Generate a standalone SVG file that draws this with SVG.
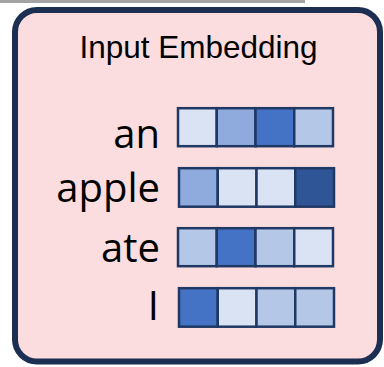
<svg xmlns="http://www.w3.org/2000/svg" width="384" height="367" viewBox="0 0 384 367">
<style>
.cell{stroke:#1f3864;stroke-width:2.5}
.c1{fill:#dae3f3}.c2{fill:#b4c7e7}.c3{fill:#8faadc}.c4{fill:#4472c4}.c5{fill:#2f5597}
.lbl{font-family:"Open Sans","Noto Sans",sans-serif;font-size:40px;fill:#000;text-anchor:end}
.title{font-family:"Liberation Sans",Arial,sans-serif;font-size:31.5px;fill:#000;text-anchor:middle}
</style>
<rect x="0" y="0" width="305" height="3" fill="#a3a3a3"/>
<g id="embedding-box">
<rect x="15" y="10" width="365" height="351.5" rx="22" fill="#fbdde0" stroke="#1c2f52" stroke-width="6"/>
<text class="title" x="198.5" y="58">Input Embedding</text>
</g>
<g id="row-an">
<text class="lbl" x="160" y="148">an</text>
<rect class="cell c1" x="178" y="108.2" width="38.75" height="38"/>
<rect class="cell c3" x="216.75" y="108.2" width="38.75" height="38"/>
<rect class="cell c4" x="255.5" y="108.2" width="38.75" height="38"/>
<rect class="cell c2" x="294.25" y="108.2" width="38.75" height="38"/>
</g>
<g id="row-apple">
<text class="lbl" x="160" y="202">apple</text>
<rect class="cell c3" x="179" y="168.2" width="38.75" height="38.5"/>
<rect class="cell c1" x="217.75" y="168.2" width="38.75" height="38.5"/>
<rect class="cell c1" x="256.5" y="168.2" width="38.75" height="38.5"/>
<rect class="cell c5" x="295.25" y="168.2" width="38.75" height="38.5"/>
</g>
<g id="row-ate">
<text class="lbl" x="160" y="262">ate</text>
<rect class="cell c2" x="178" y="228.2" width="38.75" height="38"/>
<rect class="cell c4" x="216.75" y="228.2" width="38.75" height="38"/>
<rect class="cell c2" x="255.5" y="228.2" width="38.75" height="38"/>
<rect class="cell c1" x="294.25" y="228.2" width="38.75" height="38"/>
</g>
<g id="row-I">
<text class="lbl" x="159" y="320">I</text>
<rect class="cell c4" x="179" y="288.2" width="38.75" height="38.5"/>
<rect class="cell c1" x="217.75" y="288.2" width="38.75" height="38.5"/>
<rect class="cell c2" x="256.5" y="288.2" width="38.75" height="38.5"/>
<rect class="cell c2" x="295.25" y="288.2" width="38.75" height="38.5"/>
</g>
<g id="connectors"></g>
</svg>
